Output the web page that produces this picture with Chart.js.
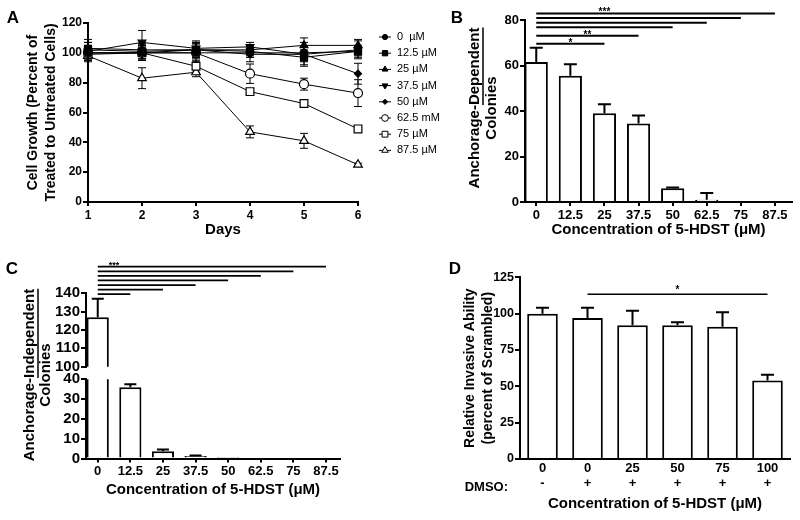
<!DOCTYPE html>
<html>
<head>
<meta charset="utf-8">
<script src="https://cdn.jsdelivr.net/npm/chart.js@4.4.1/dist/chart.umd.min.js"></script>
<style>
html, body { margin: 0; padding: 0; background: #fff; }
#wrap { position: relative; width: 800px; height: 520px; overflow: hidden; background: #fff; }
canvas { position: absolute; }
</style>
</head>
<body>
<div id="wrap">
  <canvas id="chartA" width="450" height="260" style="left:0;top:0"></canvas>
  <canvas id="chartB" width="360" height="260" style="left:440px;top:0"></canvas>
  <canvas id="chartCLow" width="400" height="260" style="left:0;top:260px"></canvas>
  <canvas id="chartCHigh" width="400" height="120" style="left:0;top:260px"></canvas>
  <canvas id="chartD" width="400" height="260" style="left:400px;top:260px"></canvas>
</div>
<script>
// ---- panel A : cell growth over days ----
const aDays = [1, 2, 3, 4, 5, 6];
const aLabels = ['0  µM', '12.5 µM', '25 µM', '37.5 µM', '50 µM', '62.5 mM', '75 µM', '87.5 µM'];
const g0    = [100, 100, 100, 100, 100, 101];
const g12_5 = [102, 101, 102, 101, 97, 101];
const g25   = [103, 102, 102, 102, 105, 105];
const g37_5 = [101, 107, 103, 104, 99, 102];
const g50   = [100, 100, 102, 99, 99, 86];
const g62_5 = [100, 100, 100, 86, 79, 73];
const g75   = [99, 100, 91, 74, 66, 49];
const g87_5 = [98, 83, 87, 47, 41, 25];
const e0    = [5, 4, 4, 3, 4, 3];
const e12_5 = [5, 5, 4, 4, 5, 4];
const e25   = [6, 4, 5, 3, 5, 4];
const e37_5 = [6, 8, 5, 3, 8, 6];
const e50   = [5, 5, 5, 5, 5, 7];
const e62_5 = [5, 5, 6, 6.5, 4, 9];
const e75   = [4, 5, 4, 2, 2, 1.5];
const e87_5 = [4, 7, 3, 4, 5, 1];
const aValues = [g0, g12_5, g25, g37_5, g50, g62_5, g75, g87_5];
const aErrors = [e0, e12_5, e25, e37_5, e50, e62_5, e75, e87_5];

// ---- panel B : anchorage-dependent colonies ----
const bLabels = ['0', '12.5', '25', '37.5', '50', '62.5', '75', '87.5'];
const bMeans = [61.5, 55.5, 39, 34.5, 6, 1, 0, 0];
const bErrors = [6.3, 5, 4, 3.5, 0.4, 3, 0, 0];
const bSigEnds = [7, 6, 5, 4, 3, 2];
const bSigLevels = [82.9, 80.9, 78.8, 76.8, 73.1, 69.6];
const bSigText = ['***', '**', '*'];
const bSigTextX = [2, 1.5, 1];
const bSigTextLevel = [82.9, 73.1, 69.6];

// ---- panel C : anchorage-independent colonies (broken axis) ----
const cLabels = ['0', '12.5', '25', '37.5', '50', '62.5', '75', '87.5'];
const cMeans = [127, 36, 3.7, 1.2, 0.3, 0, 0, 0];
const cErrors = [10, 1.5, 0.8, 0.3, 0, 0, 0, 0];
const cSigEnds = [7, 6, 5, 4, 3, 2, 1];
const cSigLevels = [154.5, 152, 149.5, 147, 144.5, 142, 139.5];
const cSigText = ['***'];
const cSigTextX = [0.5];
const cSigTextLevel = [154.5];

// ---- panel D : invasive ability ----
const dLabels = ['0', '0', '25', '50', '75', '100'];
const dDmso = ['-', '+', '+', '+', '+', '+'];
const dMeans = [100, 97, 92, 92, 91, 54];
const dErrors = [4, 7, 10, 2, 10, 4];
const dSigFrom = [1];
const dSigEnds = [5];
const dSigLevels = [113.3];
const dSigText = ['*'];
const dSigTextX = [3];
const dSigTextLevel = [113.3];

const FONT = '"Liberation Sans", Arial, Helvetica, sans-serif';
Chart.defaults.font.family = FONT;
Chart.defaults.color = '#000';

// error bars; under = drawn before datasets, both = up and down
const errorBars = {
  id: 'errorBars',
  beforeDatasetsDraw(chart, args, o) { if (o.under) drawErrors(chart, o); },
  afterDatasetsDraw(chart, args, o) { if (!o.under) drawErrors(chart, o); }
};
function drawErrors(chart, o) {
  const { ctx, chartArea: a, scales: { y } } = chart;
  ctx.save();
  ctx.beginPath();
  ctx.rect(a.left - 12, a.top, a.right - a.left + 24, a.bottom - a.top);
  ctx.clip();
  ctx.strokeStyle = '#000';
  ctx.lineWidth = o.width || 1;
  chart.data.datasets.forEach((ds, i) => {
    if (!ds.errors) return;
    chart.getDatasetMeta(i).data.forEach((el, j) => {
      const e = ds.errors[j];
      if (!e) return;
      const v = ds.data[j].y;
      const yTop = y.getPixelForValue(v + e);
      const yBot = y.getPixelForValue(o.both ? v - e : v);
      ctx.beginPath();
      ctx.moveTo(el.x, yBot); ctx.lineTo(el.x, yTop);
      ctx.moveTo(el.x - o.cap, yTop); ctx.lineTo(el.x + o.cap, yTop);
      if (o.both) { ctx.moveTo(el.x - o.cap, yBot); ctx.lineTo(el.x + o.cap, yBot); }
      ctx.stroke();
    });
  });
  ctx.restore();
}

// significance brackets above the bars
const sigLines = {
  id: 'sigLines',
  afterDraw(chart, args, o) {
    if (!o.ends) return;
    const { ctx, scales: { x, y } } = chart;
    ctx.save();
    ctx.strokeStyle = '#000';
    ctx.lineWidth = o.width;
    o.ends.forEach((end, i) => {
      const py = y.getPixelForValue(o.levels[i]);
      ctx.beginPath();
      ctx.moveTo(x.getPixelForValue(o.from[i] || 0), py);
      ctx.lineTo(x.getPixelForValue(end), py);
      ctx.stroke();
    });
    ctx.fillStyle = '#000';
    ctx.font = o.font;
    ctx.textAlign = 'center';
    ctx.textBaseline = 'alphabetic';
    o.texts.forEach((t, i) => {
      ctx.fillText(t, x.getPixelForValue(o.textX[i]), y.getPixelForValue(o.textLevel[i]) + o.dy);
    });
    ctx.restore();
  }
};

// rotated axis title with an underlined part
const sideTitle = {
  id: 'sideTitle',
  afterDraw(chart, args, o) {
    if (!o.lines) return;
    const { ctx } = chart;
    ctx.save();
    ctx.font = o.font;
    ctx.fillStyle = '#000';
    ctx.strokeStyle = '#000';
    o.lines.forEach((parts, i) => {
      const widths = parts.map(p => ctx.measureText(p.text).width);
      const total = widths.reduce((s, w) => s + w, 0);
      ctx.save();
      ctx.translate(o.x[i], o.y);
      ctx.rotate(-Math.PI / 2);
      ctx.textAlign = 'left';
      ctx.textBaseline = 'middle';
      let cx = -total / 2;
      parts.forEach((p, k) => {
        ctx.fillText(p.text, cx, 0);
        if (p.underline) {
          ctx.lineWidth = 1.5;
          ctx.beginPath();
          ctx.moveTo(cx, o.ul); ctx.lineTo(cx + widths[k], o.ul);
          ctx.stroke();
        }
        cx += widths[k];
      });
      ctx.restore();
    });
    ctx.restore();
  }
};

// loose text: panel letters etc
const notes = {
  id: 'notes',
  afterDraw(chart, args, o) {
    if (!o.items) return;
    const { ctx } = chart;
    ctx.save();
    ctx.fillStyle = '#000';
    ctx.textBaseline = 'middle';
    o.items.forEach(it => {
      ctx.font = it.font;
      ctx.textAlign = it.align || 'center';
      ctx.fillText(it.text, it.x, it.y);
    });
    ctx.restore();
  }
};

// legend with marker on a short line
const pointLegend = {
  id: 'pointLegend',
  afterDraw(chart, args, o) {
    if (!o.display) return;
    const { ctx } = chart;
    ctx.save();
    ctx.font = o.font;
    ctx.textAlign = 'left';
    ctx.textBaseline = 'middle';
    chart.data.datasets.forEach((ds, i) => {
      const y = o.y + i * o.step;
      ctx.strokeStyle = '#000';
      ctx.lineWidth = 1;
      ctx.beginPath();
      ctx.moveTo(o.x - 6, y); ctx.lineTo(o.x + 6, y);
      ctx.stroke();
      ctx.fillStyle = ds.pointBackgroundColor;
      Chart.helpers.drawPoint(ctx, {
        pointStyle: ds.pointStyle, rotation: ds.pointRotation || 0,
        radius: ds.pointRadius * 0.75, borderWidth: 1
      }, o.x, y);
      ctx.fillStyle = '#000';
      ctx.fillText(ds.label, o.textX, y);
    });
    ctx.restore();
  }
};

Chart.register(errorBars, sigLines, sideTitle, notes, pointLegend);

const axisLine = { color: '#000', width: 2 };
const tickGrid = len => ({ drawOnChartArea: false, drawTicks: len > 0, tickLength: len, color: '#000', lineWidth: 2, offset: false });
const bold = (size, lh) => ({ size: size, weight: 'bold', lineHeight: lh || 1.2 });
const letterFont = 'bold 17px ' + FONT;

// ---------- A ----------
const aStyles = [
  { s: 'circle', r: 3.5, f: '#000' },
  { s: 'rect', r: 5, f: '#000' },
  { s: 'triangle', r: 4.5, f: '#000' },
  { s: 'triangle', r: 4.5, f: '#000', rot: 180 },
  { s: 'rectRot', r: 3.5, f: '#000' },
  { s: 'circle', r: 4.5, f: '#fff' },
  { s: 'rect', r: 5.5, f: '#fff' },
  { s: 'triangle', r: 5, f: '#fff' }
];

new Chart(document.getElementById('chartA'), {
  type: 'line',
  data: {
    datasets: aValues.map((vals, i) => ({
      label: aLabels[i],
      data: aDays.map((d, j) => ({ x: d, y: vals[j] })),
      errors: aErrors[i],
      borderColor: '#000',
      borderWidth: 1,
      pointStyle: aStyles[i].s,
      pointRadius: aStyles[i].r,
      pointRotation: aStyles[i].rot || 0,
      pointBackgroundColor: aStyles[i].f,
      pointBorderColor: '#000',
      pointBorderWidth: 1.2,
      tension: 0,
      clip: false
    }))
  },
  options: {
    responsive: false,
    animation: false,
    layout: { padding: { top: 23, right: 92, left: 0, bottom: 0 } },
    plugins: {
      legend: { display: false },
      tooltip: { enabled: false },
      errorBars: { under: true, both: true, width: 1, cap: 4 },
      pointLegend: { display: true, x: 385, y: 37, step: 16.2, textX: 397, font: '11px ' + FONT },
      notes: { items: [{ text: 'A', x: 13, y: 18, font: letterFont }] }
    },
    scales: {
      x: {
        type: 'linear', min: 1, max: 6,
        afterFit: s => { s.height = 58; },
        ticks: { stepSize: 1, font: bold(12), padding: 2, maxRotation: 0, autoSkip: false },
        grid: tickGrid(4),
        border: axisLine,
        title: { display: true, text: 'Days', font: bold(15), padding: { top: 0, bottom: 21 } }
      },
      y: {
        min: 0, max: 120,
        afterFit: s => { s.width = 88; },
        ticks: { stepSize: 20, font: bold(12), padding: 1, autoSkip: false },
        grid: tickGrid(5),
        border: axisLine,
        title: {
          display: true,
          text: ['Cell Growth (Percent of', 'Treated to Untreated Cells)'],
          font: bold(14, 1.3), padding: { top: 24, bottom: 0 }
        }
      }
    }
  }
});

// ---------- bar helpers ----------
function barDataset(means, errs) {
  return {
    data: means.map((v, i) => ({ x: i, y: v })),
    errors: errs,
    backgroundColor: '#fff',
    borderColor: '#000',
    borderWidth: 2,
    borderSkipped: 'start',
    barPercentage: 0.68,
    categoryPercentage: 1,
    clip: 0
  };
}
function indexAxis(labels, min, max, height, tickFn, extra) {
  return Object.assign({
    type: 'linear', min: min, max: max, offset: false,
    afterBuildTicks: s => { s.ticks = labels.map((_, i) => ({ value: i })); },
    afterFit: s => { s.height = height; },
    ticks: { callback: tickFn || (v => labels[Math.round(v)]), autoSkip: false, maxRotation: 0, font: bold(13), padding: 1.5 },
    grid: tickGrid(4),
    border: axisLine
  }, extra || {});
}
const concTitle = pb => ({ display: true, text: 'Concentration of 5-HDST (μM)', font: bold(15), padding: { top: 0, bottom: pb } });
const valueAxis = (min, max, step, width, size) => ({
  min: min, max: max,
  afterFit: s => { s.width = width; },
  ticks: { stepSize: step, font: bold(size), padding: 1, autoSkip: false },
  grid: tickGrid(5),
  border: axisLine
});

// ---------- B ----------
new Chart(document.getElementById('chartB'), {
  type: 'bar',
  data: { datasets: [barDataset(bMeans, bErrors)] },
  options: {
    responsive: false,
    animation: false,
    layout: { padding: { top: 20, right: 8, left: 0, bottom: 0 } },
    plugins: {
      legend: { display: false },
      tooltip: { enabled: false },
      errorBars: { width: 2, cap: 6.5 },
      sigLines: {
        ends: bSigEnds, from: [], levels: bSigLevels, width: 2,
        texts: bSigText, textX: bSigTextX, textLevel: bSigTextLevel,
        font: 'bold 10px ' + FONT, dy: 2
      },
      sideTitle: {
        lines: [[{ text: 'Anchorage-' }, { text: 'Dependent', underline: true }], [{ text: 'Colonies' }]],
        x: [35, 52], y: 108, ul: 8, font: 'bold 15px ' + FONT
      },
      notes: { items: [{ text: 'B', x: 17, y: 18, font: letterFont }] }
    },
    scales: {
      x: indexAxis(bLabels, -0.33, 7.5, 58, null, { title: concTitle(21) }),
      y: valueAxis(0, 80, 20, 85, 13)
    }
  }
});

// ---------- C (lower part, 0-40) ----------
new Chart(document.getElementById('chartCLow'), {
  type: 'bar',
  data: { datasets: [barDataset(cMeans, cErrors)] },
  options: {
    responsive: false,
    animation: false,
    layout: { padding: { top: 119.3, right: 60, left: 0, bottom: 0 } },
    plugins: {
      legend: { display: false },
      tooltip: { enabled: false },
      errorBars: { width: 2, cap: 6 },
      sideTitle: {
        lines: [[{ text: 'Anchorage-' }, { text: 'Independent', underline: true }], [{ text: 'Colonies' }]],
        x: [30, 46], y: 115, ul: 8, font: 'bold 15px ' + FONT
      },
      notes: { items: [{ text: 'C', x: 12, y: 9, font: letterFont }] }
    },
    scales: {
      x: indexAxis(cLabels, -0.36, 7.43, 61.5, null, { title: concTitle(21) }),
      y: valueAxis(0, 40, 10, 86, 15)
    }
  }
});

// ---------- C (upper part, 100-140) ----------
new Chart(document.getElementById('chartCHigh'), {
  type: 'bar',
  data: { datasets: [barDataset(cMeans, cErrors)] },
  options: {
    responsive: false,
    animation: false,
    layout: { padding: { top: 33.3, right: 60, left: 0, bottom: 13.3 } },
    plugins: {
      legend: { display: false },
      tooltip: { enabled: false },
      errorBars: { width: 2, cap: 6 },
      sigLines: {
        ends: cSigEnds, from: [], levels: cSigLevels, width: 1.8,
        texts: cSigText, textX: cSigTextX, textLevel: cSigTextLevel,
        font: 'bold 9px ' + FONT, dy: 1.7
      }
    },
    scales: {
      x: indexAxis(cLabels, -0.36, 7.43, 0, null, { display: false }),
      y: valueAxis(100, 140, 10, 86, 15)
    }
  }
});

// ---------- D ----------
new Chart(document.getElementById('chartD'), {
  type: 'bar',
  data: { datasets: [barDataset(dMeans, dErrors)] },
  options: {
    responsive: false,
    animation: false,
    layout: { padding: { top: 17.3, right: 10, left: 0, bottom: 0 } },
    plugins: {
      legend: { display: false },
      tooltip: { enabled: false },
      errorBars: { width: 2, cap: 6.5 },
      sigLines: {
        ends: dSigEnds, from: dSigFrom, levels: dSigLevels, width: 1.5,
        texts: dSigText, textX: dSigTextX, textLevel: dSigTextLevel,
        font: 'bold 10px ' + FONT, dy: -1
      },
      notes: {
        items: [
          { text: 'D', x: 55, y: 9, font: letterFont },
          { text: 'DMSO:', x: 108, y: 227.7, align: 'right', font: 'bold 13px ' + FONT }
        ]
      }
    },
    scales: {
      x: indexAxis(dLabels, -0.5, 5.5, 61, v => [dLabels[Math.round(v)], dDmso[Math.round(v)]], {
        title: concTitle(6.7),
        grid: tickGrid(0)
      }),
      y: Object.assign(valueAxis(0, 125, 25, 120, 12.5), {
        title: {
          display: true,
          text: ['Relative Invasive Ability', '(percent of Scrambled)'],
          font: bold(14, 1.29), padding: { top: 61, bottom: 0 }
        }
      })
    }
  }
});
</script>
</body>
</html>
